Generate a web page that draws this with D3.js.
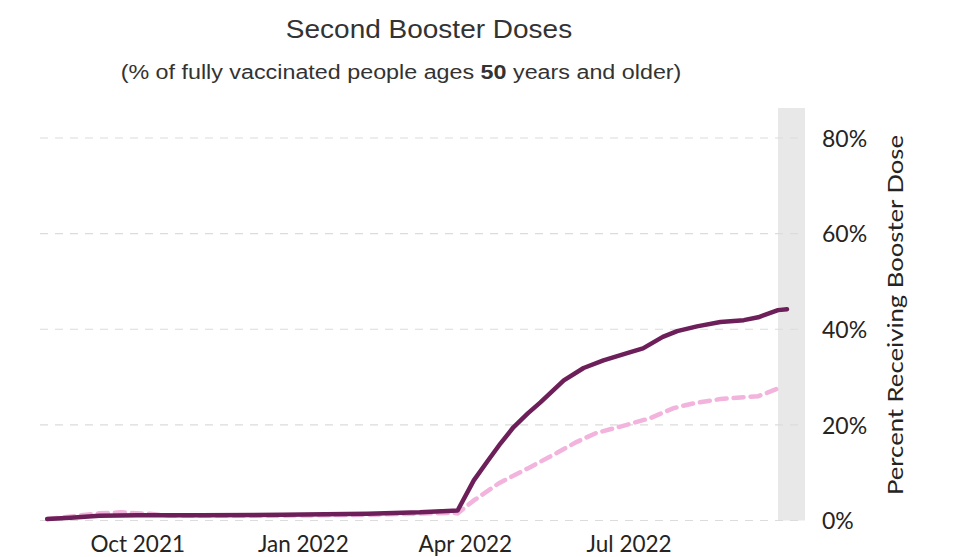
<!DOCTYPE html>
<html><head><meta charset="utf-8">
<script src="https://cdn.jsdelivr.net/npm/d3@7"></script>
<style>body{margin:0;background:#fff}svg{display:block}</style>
</head><body><svg id="c" width="954" height="557"></svg>
<script>
const titleText = "Second Booster Doses";
const yTicks = [0, 20, 40, 60, 80];
const xTickDates = ["2021-10-01", "2022-01-01", "2022-04-01", "2022-07-01"];
const solidDates = ["2021-08-12","2021-08-25","2021-09-10","2021-10-01","2021-11-05","2021-12-21","2022-02-06","2022-03-07","2022-03-28","2022-04-06","2022-04-14","2022-04-21","2022-04-28","2022-05-06","2022-05-13","2022-05-26","2022-06-06","2022-06-17","2022-07-02","2022-07-09","2022-07-20","2022-07-28","2022-08-08","2022-08-21","2022-09-03","2022-09-11","2022-09-22","2022-09-27"];
const solidValues = [0.3,0.6,1.0,1.1,1.1,1.2,1.4,1.7,2.1,8.4,12.6,16.2,19.5,22.4,24.7,29.3,31.9,33.5,35.2,36.0,38.4,39.6,40.6,41.5,41.9,42.5,44.0,44.2];
const dashDates = ["2021-08-12","2021-09-10","2021-09-22","2021-10-08","2021-10-19","2021-12-21","2022-02-06","2022-03-26","2022-03-28","2022-04-06","2022-04-20","2022-05-06","2022-05-22","2022-06-02","2022-06-13","2022-06-27","2022-07-13","2022-07-26","2022-08-06","2022-08-21","2022-09-03","2022-09-11","2022-09-24"];
const dashValues = [0.3,1.5,1.7,1.4,1.0,1.0,1.2,1.6,1.5,4.2,7.8,10.9,14.1,16.4,18.3,19.7,21.4,23.5,24.5,25.4,25.8,26.0,27.9];
const bandStart = "2022-09-22", bandEnd = "2022-10-07";

const parse = d3.utcParse("%Y-%m-%d");
const svg = d3.select("#c");
const x = d3.scaleUtc().domain([parse("2021-08-08"), parse("2022-10-07")]).range([40, 805]);
const y = d3.scaleLinear().domain([0, 80]).range([520.5, 138]);
const tickFont = "Lato, 'Open Sans', sans-serif";

svg.append("rect").attr("x", x(parse(bandStart))).attr("y", 108)
  .attr("width", x(parse(bandEnd)) - x(parse(bandStart))).attr("height", y(0) - 108)
  .attr("fill", "#e8e8e8");

svg.append("g").attr("class","grid").selectAll("line").data(yTicks).join("line")
  .attr("x1", 40).attr("x2", 805).attr("y1", d => y(d)).attr("y2", d => y(d))
  .attr("stroke", "#dcdcdc").attr("stroke-width", 1.2).attr("stroke-dasharray", "8,7");

const yAxis = d3.axisRight(y).tickValues(yTicks).tickSize(0).tickFormat(d => d + "%").tickPadding(0);
const ya = svg.append("g").attr("transform", "translate(822,0)").call(yAxis);
ya.select(".domain").remove();
ya.selectAll("text").attr("font-family", tickFont).attr("font-size", 23).attr("fill", "#252423").attr("dy", "0.36em");

const xAxis = d3.axisBottom(x).tickValues(xTickDates.map(parse)).tickSize(0).tickFormat(d3.utcFormat("%b %Y")).tickPadding(0);
const xa = svg.append("g").attr("transform", "translate(0,552)").call(xAxis);
xa.select(".domain").remove();
xa.selectAll("text").attr("font-family", tickFont).attr("font-size", 22.5).attr("fill", "#252423").attr("y", 0).attr("dy", 0);

const line = d3.line().x(d => x(d[0])).y(d => y(d[1]));
const dashData = dashDates.map((d, i) => [parse(d), dashValues[i]]);
const solidData = solidDates.map((d, i) => [parse(d), solidValues[i]]);
svg.append("path").datum(dashData).attr("d", line).attr("fill", "none")
  .attr("stroke", "#f2b3dd").attr("stroke-width", 4.5).attr("stroke-dasharray", "10,7").attr("stroke-linecap", "round");
svg.append("path").datum(solidData).attr("d", line).attr("fill", "none")
  .attr("stroke", "#6d1f59").attr("stroke-width", 4.5).attr("stroke-linejoin", "round").attr("stroke-linecap", "round");

svg.append("text").attr("transform", "translate(429,38) scale(1.12,1)").attr("text-anchor", "middle")
  .attr("font-family", "'Liberation Sans', Arial, sans-serif").attr("font-size", 25).attr("fill", "#333")
  .text(titleText);
const sub = svg.append("text").attr("transform", "translate(401,79) scale(1.11,1)").attr("text-anchor", "middle")
  .attr("font-family", "'Liberation Sans', Arial, sans-serif").attr("font-size", 21).attr("fill", "#333");
sub.append("tspan").text("(% of fully vaccinated people ages ");
sub.append("tspan").attr("font-weight", "bold").text("50");
sub.append("tspan").text(" years and older)");

svg.append("text").attr("transform", "translate(903,315) rotate(-90)").attr("text-anchor", "middle")
  .attr("font-family", tickFont).attr("font-size", 22).attr("fill", "#252423")
  .attr("textLength", 360).attr("lengthAdjust", "spacingAndGlyphs")
  .text("Percent Receiving Booster Dose");
</script></body></html>
